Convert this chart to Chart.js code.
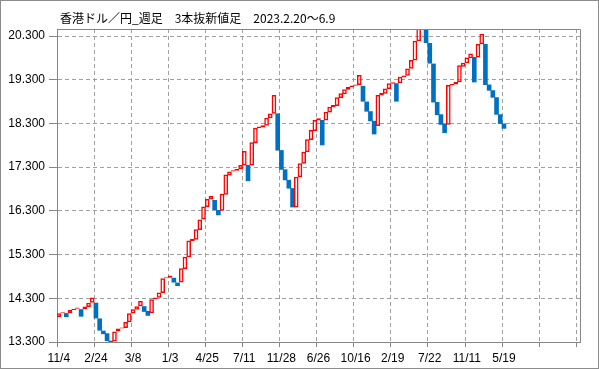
<!DOCTYPE html>
<html>
<head>
<meta charset="utf-8">
<script src="https://cdn.jsdelivr.net/npm/chart.js@4/dist/chart.umd.min.js"></script>
<style>
  html, body { margin: 0; padding: 0; background: #fff; }
  canvas { display: block; }
</style>
</head>
<body>
<canvas id="kagi" width="599" height="369"></canvas>
<script>
// 3本抜新値足: each block = [low, high], up = 1 (red outline) / 0 (blue)
const blockLow = [
  13.87, 13.96, 13.87, 13.96, 14.03, 14.06, 13.88, 14.05, 14.10, 14.20,
  13.84, 13.56, 13.48, 13.32, 13.30, 13.31, 13.54, 13.61, 13.62, 13.75,
  13.95, 14.04, 14.12, 13.99, 13.90, 13.96, 14.28, 14.31, 14.42, 14.76,
  14.77, 14.66, 14.58, 14.66, 14.97, 15.24, 15.61, 15.64, 15.86, 16.10,
  16.39, 16.56, 16.32, 16.20, 16.30, 16.67, 17.11, 17.20, 17.22, 17.25,
  17.34, 16.98, 17.34, 17.85, 18.19, 18.21, 18.25, 18.42, 18.52, 17.68,
  17.24, 17.00, 16.81, 16.38, 16.38, 17.07, 17.38, 17.64, 17.92, 18.13,
  18.37, 17.80, 18.37, 18.55, 18.67, 18.70, 18.88, 18.97, 19.07, 19.13,
  19.16, 19.18, 18.80, 18.57, 18.35, 18.05, 18.24, 18.94, 18.98, 19.09,
  19.21, 18.80, 19.22, 19.36, 19.39, 19.55, 19.74, 20.18, 20.49, 20.14,
  19.67, 18.78, 18.49, 18.27, 18.08, 18.27, 19.17, 19.19, 19.24, 19.60,
  19.68, 19.79, 19.24, 19.81, 20.11, 19.18, 19.05, 18.89, 18.50, 18.29,
  18.18
];
const blockHigh = [
  13.96, 13.98, 13.96, 14.03, 14.06, 14.09, 14.05, 14.11, 14.20, 14.32,
  14.20, 13.84, 13.56, 13.50, 13.33, 13.54, 13.61, 13.63, 13.76, 13.96,
  14.05, 14.12, 14.24, 14.12, 14.01, 14.28, 14.32, 14.43, 14.76, 14.78,
  14.82, 14.77, 14.66, 14.99, 15.25, 15.62, 15.66, 15.88, 16.10, 16.40,
  16.57, 16.64, 16.55, 16.32, 16.69, 17.13, 17.20, 17.23, 17.26, 17.35,
  17.67, 17.35, 17.87, 18.20, 18.23, 18.26, 18.43, 18.53, 18.95, 18.53,
  17.69, 17.25, 17.01, 16.82, 17.08, 17.39, 17.65, 17.94, 18.15, 18.38,
  18.42, 18.38, 18.57, 18.68, 18.72, 18.90, 18.99, 19.08, 19.14, 19.17,
  19.19, 19.41, 19.16, 18.80, 18.58, 18.36, 18.95, 19.00, 19.10, 19.22,
  19.24, 19.22, 19.37, 19.40, 19.56, 19.75, 20.19, 20.50, 20.60, 20.60,
  20.14, 19.67, 18.79, 18.51, 18.29, 19.18, 19.20, 19.25, 19.63, 19.69,
  19.81, 19.90, 19.82, 20.12, 20.35, 20.12, 19.19, 19.06, 18.90, 18.51,
  18.30
];
const blockUp = [
  1, 1, 0, 1, 1, 1, 0, 1, 1, 1,
  0, 0, 0, 0, 0, 1, 1, 1, 1, 1,
  1, 1, 1, 0, 0, 1, 1, 1, 1, 1,
  1, 0, 0, 1, 1, 1, 1, 1, 1, 1,
  1, 1, 0, 0, 1, 1, 1, 1, 1, 1,
  1, 0, 1, 1, 1, 1, 1, 1, 1, 0,
  0, 0, 0, 0, 1, 1, 1, 1, 1, 1,
  1, 0, 1, 1, 1, 1, 1, 1, 1, 1,
  1, 1, 0, 0, 0, 0, 1, 1, 1, 1,
  1, 0, 1, 1, 1, 1, 1, 1, 1, 0,
  0, 0, 0, 0, 0, 1, 1, 1, 1, 1,
  1, 1, 0, 1, 1, 0, 0, 0, 0, 0,
  0
];
const tickLabels = ['11/4', '2/24', '3/8', '1/3', '4/25', '7/11', '11/28',
                    '6/26', '10/16', '2/19', '7/22', '11/11', '5/19'];
const yTicks = [13.3, 14.3, 15.3, 16.3, 17.3, 18.3, 19.3, 20.3];
const titleText = '香港ドル／円_週足　3本抜新値足　2023.2.20～6.9';

const slotCount = 141;
const labels = [];
for (let i = 0; i < slotCount; i++) {
  labels.push(i % 10 === 0 && tickLabels[i / 10] ? tickLabels[i / 10] : '');
}
const blocks = blockLow.map((lo, i) => [lo, blockHigh[i]]);

const RED = '#FF0000';
const BLUE = '#0070C0';
const GRID = '#A0A0A0';
const AXIS = '#868686';

const framePlugin = {
  id: 'frame',
  afterDraw(chart) {
    const ctx = chart.ctx;
    const a = chart.chartArea;
    ctx.save();
    ctx.strokeStyle = AXIS;
    ctx.lineWidth = 1;
    ctx.beginPath();
    ctx.moveTo(Math.round(a.left) + 0.5, Math.round(a.top) + 0.5);
    ctx.lineTo(Math.round(a.right) + 0.5, Math.round(a.top) + 0.5);
    ctx.lineTo(Math.round(a.right) + 0.5, Math.round(a.bottom) + 0.5);
    ctx.stroke();
    // outer border
    ctx.strokeStyle = '#8C8C8C';
    ctx.strokeRect(0.5, 0.5, chart.width - 1, chart.height - 1);
    // title
    ctx.fillStyle = '#000';
    ctx.font = '12px "Noto Sans CJK JP"';
    ctx.textBaseline = 'middle';
    ctx.textAlign = 'left';
    ctx.fillText(titleText, 60, 18);
    ctx.restore();
  }
};

new Chart(document.getElementById('kagi'), {
  type: 'bar',
  data: {
    labels: labels,
    datasets: [{
      data: blocks,
      backgroundColor: ctx => blockUp[ctx.dataIndex] ? 'rgba(0,0,0,0)' : BLUE,
      borderColor: ctx => blockUp[ctx.dataIndex] ? RED : BLUE,
      borderWidth: ctx => blockUp[ctx.dataIndex] ? 1.5 : 0,
      borderSkipped: false,
      inflateAmount: 0,
      barPercentage: 1.25,
      categoryPercentage: 1,
      clip: 0
    }]
  },
  options: {
    responsive: false,
    animation: false,
    events: [],
    layout: { padding: { top: 29, right: 19, bottom: 0, left: 0 } },
    plugins: {
      legend: { display: false },
      title: { display: false },
      tooltip: { enabled: false }
    },
    scales: {
      x: {
        grid: {
          offset: true,
          color: ctx => ctx.index % 10 === 0 ? GRID : 'rgba(0,0,0,0)',
          tickColor: ctx => ctx.index % 10 === 0 ? AXIS : 'rgba(0,0,0,0)',
          tickLength: 5,
          tickBorderDash: []
        },
        border: { color: AXIS, width: 1, dash: [4, 3] },
        ticks: {
          autoSkip: false,
          maxRotation: 0,
          minRotation: 0,
          padding: 4,
          color: '#000',
          font: { family: '"Liberation Sans"', size: 12 }
        },
        afterFit: scale => { scale.height = 27; }
      },
      y: {
        min: 13.3,
        max: 20.461,
        afterBuildTicks: scale => { scale.ticks = yTicks.map(v => ({ value: v })); },
        grid: {
          color: GRID,
          tickColor: AXIS,
          tickLength: 8,
          tickBorderDash: []
        },
        border: { color: AXIS, width: 1, dash: [4, 3] },
        ticks: {
          padding: 4,
          color: '#000',
          font: { family: '"Liberation Sans"', size: 12 },
          callback: v => v.toFixed(3)
        },
        afterFit: scale => { scale.width = 57; }
      }
    }
  },
  plugins: [framePlugin]
});
</script>
</body>
</html>
